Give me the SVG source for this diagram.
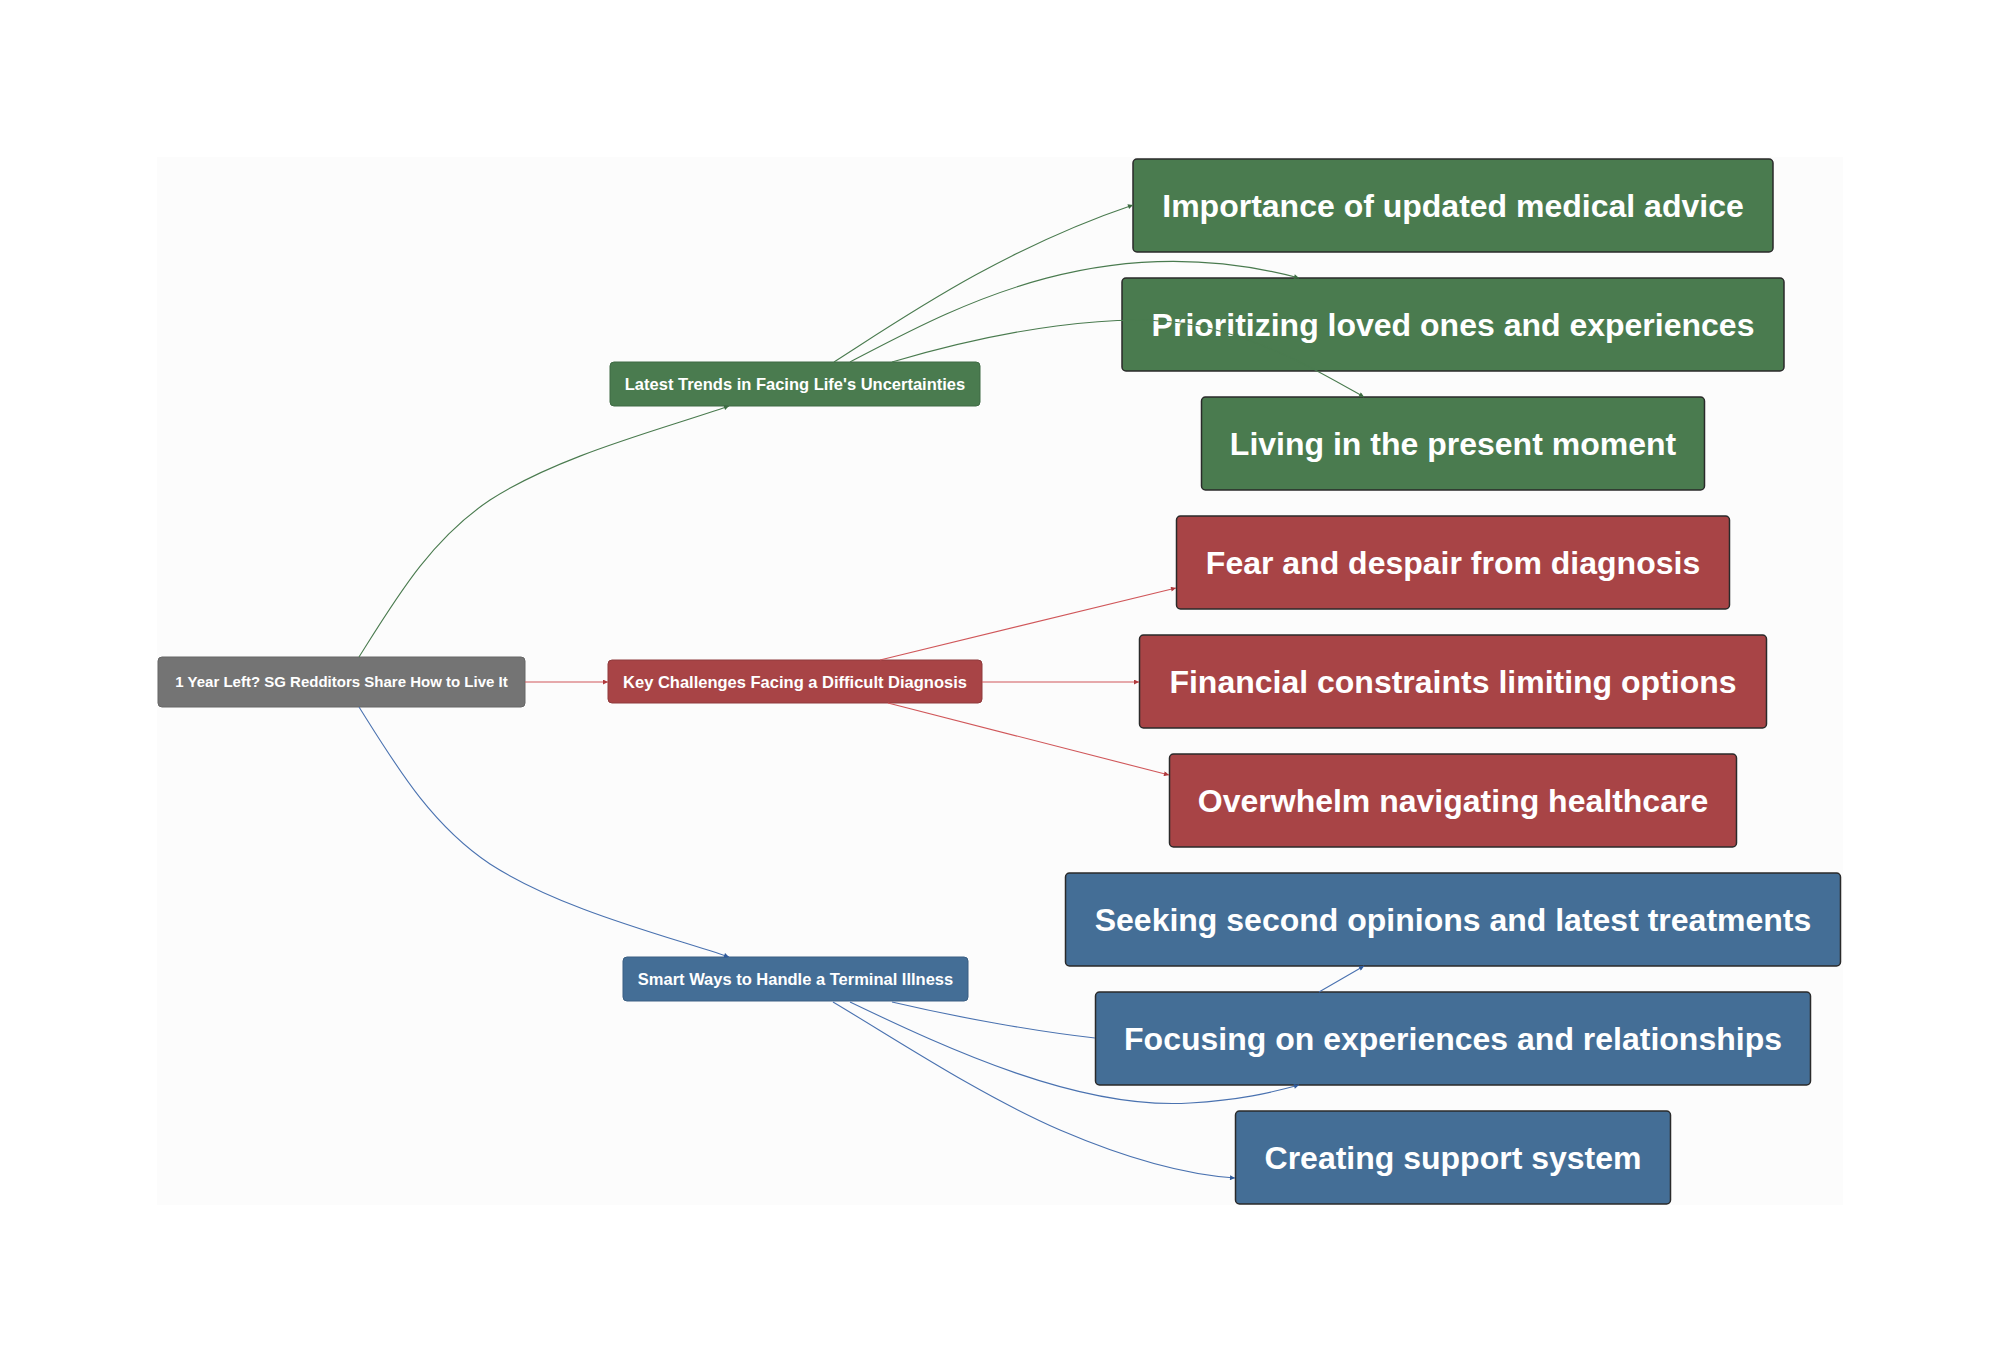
<svg xmlns="http://www.w3.org/2000/svg" width="2000" height="1364" viewBox="0 0 2000 1364">
<defs>
<style>
.t{font-family:"Liberation Sans",Arial,sans-serif;font-weight:bold;fill:#ffffff;text-anchor:middle}
.root{font-size:15px}
.mid{font-size:16.5px}
.leaf{font-size:32px}
.g{fill:#4a7b4f}
.r{fill:#a84446}
.b{fill:#446e96}
.gy{fill:#747474;stroke:#666666;stroke-width:1}
.midg{stroke:#3f6b44;stroke-width:1}
.midr{stroke:#8f3a3c;stroke-width:1}
.midb{stroke:#3a5f83;stroke-width:1}
.lf{stroke:#2a2a2a;stroke-width:1.5}
.e{fill:none;stroke-width:1.1}
.eg{stroke:#4a7b4f}
.er{stroke:#d0575a}
.eb{stroke:#4a72b0}
</style>
<marker id="ag" viewBox="0 0 10 10" refX="10" refY="5" markerUnits="userSpaceOnUse" markerWidth="7" markerHeight="5" orient="auto"><path d="M0,0 L10,5 L0,10 z" fill="#3d6b42"/></marker>
<marker id="ar" viewBox="0 0 10 10" refX="10" refY="5" markerUnits="userSpaceOnUse" markerWidth="7" markerHeight="5" orient="auto"><path d="M0,0 L10,5 L0,10 z" fill="#b03a3d"/></marker>
<marker id="ab" viewBox="0 0 10 10" refX="10" refY="5" markerUnits="userSpaceOnUse" markerWidth="7" markerHeight="5" orient="auto"><path d="M0,0 L10,5 L0,10 z" fill="#2f5a9a"/></marker>
</defs>
<rect x="0" y="0" width="2000" height="1364" fill="#ffffff"/>
<rect x="157" y="157" width="1686" height="1048" fill="#fcfcfc"/>

<g id="nodes">
<g id="root">
<rect class="gy" x="158" y="657" width="367" height="50" rx="4"/>
<text class="t root" x="341.5" y="687.4">1 Year Left? SG Redditors Share How to Live It</text>
</g>
<g id="trends">
<rect class="g midg" x="610" y="362" width="370" height="44" rx="4"/>
<text class="t mid" x="795" y="390">Latest Trends in Facing Life's Uncertainties</text>
</g>
<g id="challenges">
<rect class="r midr" x="608" y="660" width="374" height="43" rx="4"/>
<text class="t mid" x="795" y="687.5">Key Challenges Facing a Difficult Diagnosis</text>
</g>
<g id="smart">
<rect class="b midb" x="623" y="957" width="345" height="44" rx="4"/>
<text class="t mid" x="795.5" y="985">Smart Ways to Handle a Terminal Illness</text>
</g>
<g id="importance">
<rect class="g lf" x="1133" y="159" width="640" height="93" rx="4"/>
<text class="t leaf" x="1453" y="217">Importance of updated medical advice</text>
</g>
<g id="prioritizing">
<rect class="g lf" x="1122" y="278" width="662" height="93" rx="4"/>
<text class="t leaf" x="1453" y="336">Prioritizing loved ones and experiences</text>
</g>
<g id="living">
<rect class="g lf" x="1201.5" y="397" width="503" height="93" rx="4"/>
<text class="t leaf" x="1453" y="455">Living in the present moment</text>
</g>
<g id="fear">
<rect class="r lf" x="1176.5" y="516" width="553" height="93" rx="4"/>
<text class="t leaf" x="1453" y="574">Fear and despair from diagnosis</text>
</g>
<g id="financial">
<rect class="r lf" x="1139.5" y="635" width="627" height="93" rx="4"/>
<text class="t leaf" x="1453" y="693">Financial constraints limiting options</text>
</g>
<g id="overwhelm">
<rect class="r lf" x="1169.5" y="754" width="567" height="93" rx="4"/>
<text class="t leaf" x="1453" y="812">Overwhelm navigating healthcare</text>
</g>
<g id="seeking">
<rect class="b lf" x="1065.5" y="873" width="775" height="93" rx="4"/>
<text class="t leaf" x="1453" y="931">Seeking second opinions and latest treatments</text>
</g>
<g id="focusing">
<rect class="b lf" x="1095.5" y="992" width="715" height="93" rx="4"/>
<text class="t leaf" x="1453" y="1050">Focusing on experiences and relationships</text>
</g>
<g id="creating">
<rect class="b lf" x="1235.5" y="1111" width="435" height="93" rx="4"/>
<text class="t leaf" x="1453" y="1169">Creating support system</text>
</g>
</g>

<g id="connectors">
<path class="e eg" d="M359,657 C395,600 430,540 490,500 C560,455 660,430 729,406" marker-end="url(#ag)"/>
<path class="e er" d="M525,682 L608,682" marker-end="url(#ar)"/>
<path class="e eb" d="M359,707 C395,764 430,824 490,864 C560,909 660,934 729,957" marker-end="url(#ab)"/>
<path class="e eg" d="M834,362 C900,320 1000,250 1133,205" marker-end="url(#ag)"/>
<path class="e eg" d="M850,362 C950,310 1100,225 1299,278" marker-end="url(#ag)"/>
<path class="e eg" d="M892,362 C1000,330 1120,310 1200,326 C1270,342 1320,372 1364,397" marker-end="url(#ag)"/>
<path class="e er" d="M880,660 L1176,588" marker-end="url(#ar)"/>
<path class="e er" d="M982,682 L1139,682" marker-end="url(#ar)"/>
<path class="e er" d="M888,703 L1169,775" marker-end="url(#ar)"/>
<path class="e eb" d="M892,1002 C960,1018 1040,1032 1095,1038 M1319,992 L1364,966" marker-end="url(#ab)"/>
<path class="e eb" d="M850,1002 C950,1050 1080,1110 1190,1103 C1240,1100 1270,1093 1299,1085" marker-end="url(#ab)"/>
<path class="e eb" d="M833,1002 C900,1042 980,1095 1060,1130 C1130,1160 1190,1175 1235,1178" marker-end="url(#ab)"/>
</g>
</svg>
